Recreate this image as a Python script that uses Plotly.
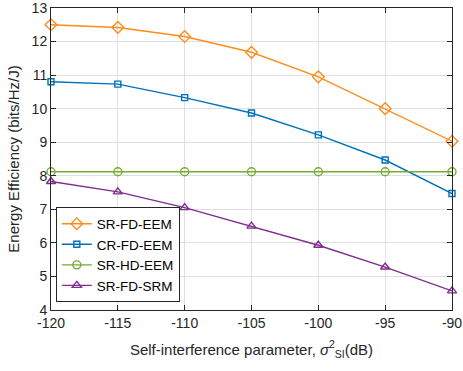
import plotly.graph_objects as go

x_vals = [-120, -115, -110, -105, -100, -95, -90]
x_labels = ["-120", "-115", "-110", "-105", "-100", "-95", "-90"]
y_ticks = [4, 5, 6, 7, 8, 9, 10, 11, 12, 13]
sr_fd_eem = [12.5, 12.42, 12.15, 11.68, 10.95, 10.0, 9.03]
cr_fd_eem = [10.8, 10.73, 10.33, 9.87, 9.22, 8.47, 7.47]
sr_hd_eem = [8.12, 8.12, 8.12, 8.12, 8.12, 8.12, 8.12]
sr_fd_srm = [7.83, 7.52, 7.05, 6.5, 5.93, 5.28, 4.57]

series = [
    ("SR-FD-EEM", sr_fd_eem, "#FF8C1A", "diamond-open", 9),
    ("CR-FD-EEM", cr_fd_eem, "#0072BD", "square-open", 6),
    ("SR-HD-EEM", sr_hd_eem, "#77AC30", "circle-open", 8),
    ("SR-FD-SRM", sr_fd_srm, "#7E2F8E", "triangle-up-open", 8),
]

fig = go.Figure()
for name, y, c, sym, sz in series:
    fig.add_trace(go.Scatter(
        x=x_vals, y=y, name=name, mode="lines+markers",
        line=dict(color=c, width=1.4),
        marker=dict(symbol=sym, size=sz, color=c, line=dict(color=c, width=1.4)),
        cliponaxis=False,
    ))

axis_common = dict(
    showline=True, linecolor="#262626", linewidth=1, mirror="ticks",
    ticks="inside", ticklen=5, tickcolor="#262626",
    showgrid=True, gridcolor="#E0E0E0", gridwidth=1, zeroline=False,
    tickfont=dict(family="Liberation Sans, Arial", size=14, color="#262626"),
    ticklabeloverflow="allow", automargin=False,
)

fig.update_layout(
    width=463, height=371,
    margin=dict(l=51, r=11, t=8, b=61, autoexpand=False),
    plot_bgcolor="white", paper_bgcolor="white",
    font=dict(family="Liberation Sans, Arial", size=14, color="#262626"),
    xaxis=dict(range=[-120, -90], tickvals=x_vals, ticktext=x_labels, **axis_common,
               title=dict(text="Self-interference parameter, <i>σ</i><sup>2</sup><sub>SI</sub>(dB)",
                          font=dict(size=15, color="#262626"), standoff=14)),
    yaxis=dict(range=[4, 13], tickvals=y_ticks, **axis_common,
               title=dict(text="Energy Efficiency (bits/Hz/J)",
                          font=dict(size=15, color="#262626"), standoff=8)),
    legend=dict(x=0.012, y=0.025, xanchor="left", yanchor="bottom",
                bgcolor="white", bordercolor="#262626", borderwidth=1,
                font=dict(size=13.5, color="#000000"), tracegroupgap=0,
                itemwidth=30),
    showlegend=True,
)

fig.write_html("out.html")
